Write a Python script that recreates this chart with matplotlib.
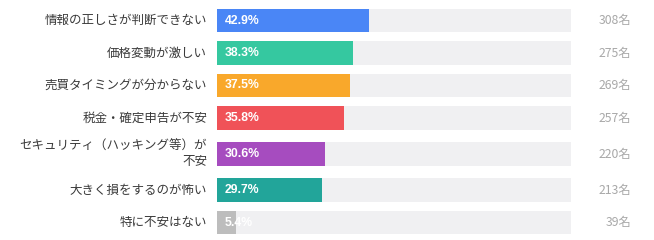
import matplotlib.pyplot as plt

plt.rcParams['font.family'] = ['Noto Sans CJK JP', 'DejaVu Sans']

# data
labels = ['情報の正しさが判断できない', '価格変動が激しい', '売買タイミングが分からない',
          '税金・確定申告が不安', 'セキュリティ（ハッキング等）が\n不安',
          '大きく損をするのが怖い', '特に不安はない']
percents = [42.9, 38.3, 37.5, 35.8, 30.6, 29.7, 5.4]
counts = [308, 275, 269, 257, 220, 213, 39]
colors = ['#4a86f6', '#35c8a0', '#f9a82b', '#f05258', '#a64cbf', '#22a59a', '#bdbdbd']

# row positions in pixels, extra room for two-line labels
ypos = []
y = 20.5
for i, lab in enumerate(labels):
    if i > 0:
        y += 32.5
        if '\n' in lab or '\n' in labels[i - 1]:
            y += 3.5
    ypos.append(y)

fig = plt.figure(figsize=(6.54, 2.40), dpi=100)
ax = fig.add_axes([217 / 654, 0, (571 - 217) / 654, 1])
ax.set_xlim(0, 100)
ax.set_ylim(240, 0)
ax.axis('off')

bh = 23.5
ax.barh(ypos, [100] * len(ypos), height=bh, color='#f0f0f2', zorder=1)
ax.barh(ypos, percents, height=bh, color=colors, zorder=2)

for yy, lab, p, c in zip(ypos, labels, percents, counts):
    ax.text(-2.8, yy, lab, ha='right', va='center', fontsize=9,
            color='#3a3a3a', linespacing=1.25)
    ax.text(2.2, yy, f'{p}%', ha='left', va='center', fontsize=8.8,
            color='white', fontweight='bold', family=['Liberation Sans'], zorder=3)
    ax.text(117.0, yy, f'{c}名', ha='right', va='center', fontsize=8.8,
            color='#a8a8a8')

fig.savefig('out.png', dpi=100)
